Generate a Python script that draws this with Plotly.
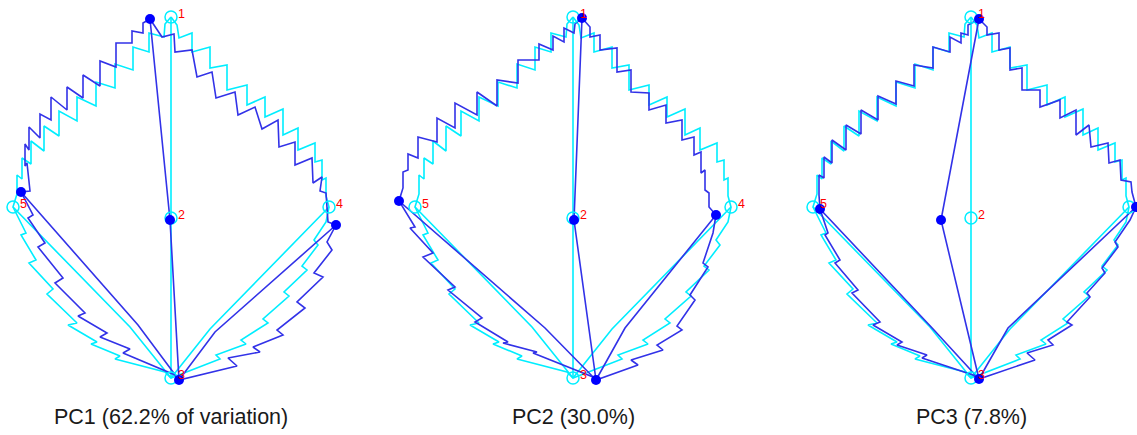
import plotly.graph_objects as go

# ---------------- data (x relative to panel midline, y in image pixels, downwards) -------------
titles = ["PC1 (62.2% of variation)", "PC2 (30.0%)", "PC3 (7.8%)"]
landmark_labels = ["1", "2", "3", "4", "5"]

# mean leaf shape (cyan, open markers) - landmarks 1..5
mean_lm_x = [0, 0, 0, 158, -158]
mean_lm_y = [17, 218, 378, 207, 207]
mean_kinks = [(-41, 327), (39, 329)]
mean_ul = [(-6, 24), (-7, 37), (-22, 33), (-22, 52), (-38, 47), (-38, 70), (-56, 64), (-56, 88),
           (-75, 82), (-75, 106), (-94, 97), (-94, 121), (-112, 111), (-112, 136), (-127, 126),
           (-127, 151), (-140, 141), (-140, 164), (-149, 158), (-149, 179), (-154, 175), (-154, 194)]
mean_ll = [(-145, 233), (-150, 235), (-135, 260), (-142, 263), (-118, 289), (-124, 294), (-94, 323),
           (-103, 325), (-74, 342), (-80, 344), (-51, 356), (-56, 359), (-6, 372)]
mean_lr = [(49, 359), (45, 355), (75, 344), (70, 340), (97, 323), (92, 319), (118, 296), (113, 292),
           (136, 270), (131, 266), (147, 245), (143, 240), (155, 222)]
mean_ur = [(6, 25), (8, 38), (21, 33), (21, 52), (39, 47), (39, 68), (56, 65), (56, 90), (76, 85),
           (76, 105), (94, 97), (94, 117), (112, 109), (112, 135), (127, 128), (127, 150), (144, 143),
           (144, 162), (151, 160), (151, 180), (155, 178), (155, 196)]

# PC1 extreme shape (blue)
pc1_lm_x = [-21, -1, 8, 165, -150]
pc1_lm_y = [19, 220, 380, 225, 192]
pc1_kinks = [(-33, 325), (44, 332)]
pc1_ul = [(-28, 23), (-28, 33), (-39, 31), (-39, 43), (-55, 43), (-55, 67), (-71, 61), (-71, 86),
          (-88, 75), (-88, 98), (-104, 87), (-104, 110), (-120, 97), (-120, 120), (-131, 114),
          (-131, 138), (-142, 127), (-142, 150), (-146, 144), (-146, 166), (-144, 163), (-141, 191)]
pc1_ll = [(-138, 215), (-143, 218), (-126, 243), (-133, 247), (-108, 278), (-116, 283), (-86, 313),
          (-93, 316), (-64, 333), (-71, 337), (-41, 349), (-48, 353), (4, 375)]
pc1_lr = [(66, 366), (57, 358), (89, 352), (82, 347), (112, 335), (106, 330), (134, 308), (126, 302),
          (152, 277), (143, 273), (161, 250), (156, 242)]
pc1_ur = [(-9, 37), (3, 34), (4, 52), (21, 50), (26, 77), (41, 72), (45, 98), (64, 92), (67, 115),
          (84, 107), (91, 129), (107, 120), (108, 147), (124, 142), (124, 165), (141, 158), (142, 183),
          (151, 177), (149, 191), (155, 193), (157, 222)]

# PC2 extreme shape (blue)
pc2_lm_x = [9, 1, 23, 143, -174]
pc2_lm_y = [18, 220, 380, 215, 201]
pc2_kinks = [(-28, 328), (52, 328)]
pc2_ul = [(2, 24), (1, 33), (-9, 28), (-9, 42), (-20, 36), (-20, 50), (-34, 44), (-34, 60), (-55, 60),
          (-55, 83), (-76, 80), (-76, 106), (-96, 92), (-96, 115), (-118, 103), (-118, 128), (-136, 118),
          (-136, 142), (-155, 137), (-155, 158), (-165, 154), (-165, 170), (-170, 172), (-170, 188)]
pc2_ll = [(-158, 227), (-163, 228), (-140, 253), (-150, 257), (-118, 287), (-125, 290), (-91, 318),
          (-98, 322), (-65, 342), (-70, 343), (-36, 352), (-40, 353), (20, 377)]
pc2_lr = [(65, 365), (58, 360), (90, 350), (84, 345), (109, 330), (104, 326), (122, 300), (117, 295),
          (135, 267), (130, 263), (140, 233)]
pc2_ur = [(17, 27), (17, 37), (27, 35), (27, 50), (44, 48), (44, 72), (58, 70), (58, 92), (76, 93),
          (76, 110), (93, 105), (93, 123), (109, 120), (109, 140), (121, 137), (121, 155), (128, 152),
          (128, 173), (132, 170), (132, 190), (136, 193), (136, 207)]

# PC3 extreme shape (blue)
pc3_lm_x = [8, -30, 8, 165, -151]
pc3_lm_y = [19, 220, 379, 207, 209]
pc3_kinks = [(-37, 330), (37, 328)]
pc3_ul = [(-3, 25), (-3, 35), (-10, 33), (-10, 43), (-21, 37), (-21, 52), (-38, 47), (-38, 68),
          (-57, 65), (-57, 86), (-75, 81), (-75, 104), (-93, 96), (-93, 120), (-110, 110), (-110, 134),
          (-125, 125), (-125, 150), (-139, 140), (-139, 163), (-147, 157), (-147, 178), (-152, 175),
          (-152, 195)]
pc3_ll = [(-143, 233), (-146, 235), (-131, 260), (-136, 263), (-113, 290), (-119, 293), (-91, 322),
          (-98, 325), (-69, 342), (-74, 345), (-44, 355), (-49, 358), (2, 375)]
pc3_lr = [(64, 360), (56, 353), (82, 345), (77, 340), (101, 325), (96, 322), (119, 297), (116, 293),
          (134, 273), (131, 268), (147, 247), (144, 242), (159, 220)]
pc3_ur = [(16, 27), (16, 35), (28, 33), (28, 50), (39, 48), (39, 70), (51, 68), (51, 90), (69, 90),
          (69, 107), (89, 100), (89, 118), (105, 110), (105, 135), (118, 125), (120, 147), (137, 143),
          (138, 163), (149, 160), (150, 180), (160, 182), (161, 192)]

# which landmark labels are visible in each panel (panel 3's "4" lies past the right edge)
visible_labels = [["1", "2", "3", "4", "5"], ["1", "2", "3", "4", "5"], ["1", "2", "3", "5"]]

# ---------------- layout of the three panels (pixels) ----------------
W, H = 1137, 435
panel_px = [(0, 372, 171), (372, 772, 573), (772, 1137, 971)]  # left, right, midline

CYAN = "rgb(0,238,255)"
BLUE_LINE = "rgb(50,50,232)"
BLUE_MARK = "rgb(0,0,255)"
FONT = "Liberation Sans, Arial, sans-serif"
LW = 1.6


def shape_dict(lm_x, lm_y, kinks, ul, ll, lr, ur):
    return dict(lm_x=lm_x, lm_y=lm_y, kinks=kinks, ul=ul, ll=ll, lr=lr, ur=ur)


mean_shape = shape_dict(mean_lm_x, mean_lm_y, mean_kinks, mean_ul, mean_ll, mean_lr, mean_ur)
pc_shapes = [
    shape_dict(pc1_lm_x, pc1_lm_y, pc1_kinks, pc1_ul, pc1_ll, pc1_lr, pc1_ur),
    shape_dict(pc2_lm_x, pc2_lm_y, pc2_kinks, pc2_ul, pc2_ll, pc2_lr, pc2_ur),
    shape_dict(pc3_lm_x, pc3_lm_y, pc3_kinks, pc3_ul, pc3_ll, pc3_lr, pc3_ur),
]


def outline_xy(s):
    L = list(zip(s["lm_x"], s["lm_y"]))
    pts = [L[0]] + s["ul"] + [L[4]] + s["ll"] + [L[2]] + s["lr"] + [L[3]] + list(reversed(s["ur"])) + [L[0]]
    return [p[0] for p in pts], [p[1] for p in pts]


def veins_xy(s):
    L = list(zip(s["lm_x"], s["lm_y"]))
    k5, k4 = s["kinks"]
    pts = [L[0], L[1], L[2], None, L[2], k5, L[4], None, L[2], k4, L[3]]
    xs = [p[0] if p else None for p in pts]
    ys = [p[1] if p else None for p in pts]
    return xs, ys


fig = go.Figure()
annotations = []
for i, pc in enumerate(pc_shapes):
    xa = "x" if i == 0 else f"x{i+1}"
    for s, col in [(mean_shape, CYAN), (pc, BLUE_LINE)]:
        ox, oy = outline_xy(s)
        fig.add_trace(go.Scatter(x=ox, y=oy, xaxis=xa, yaxis="y", mode="lines",
                                 line=dict(color=col, width=LW), hoverinfo="skip", showlegend=False))
        vx, vy = veins_xy(s)
        fig.add_trace(go.Scatter(x=vx, y=vy, xaxis=xa, yaxis="y", mode="lines",
                                 line=dict(color=col, width=LW), hoverinfo="skip", showlegend=False))
    fig.add_trace(go.Scatter(x=mean_shape["lm_x"], y=mean_shape["lm_y"], xaxis=xa, yaxis="y",
                             mode="markers", showlegend=False, hoverinfo="skip",
                             marker=dict(symbol="circle-open", size=12, color=CYAN,
                                         line=dict(width=1.5, color=CYAN))))
    fig.add_trace(go.Scatter(x=pc["lm_x"], y=pc["lm_y"], xaxis=xa, yaxis="y",
                             mode="markers", showlegend=False, hoverinfo="skip",
                             marker=dict(symbol="circle", size=10, color=BLUE_MARK)))
    for lx, ly, lab in zip(mean_shape["lm_x"], mean_shape["lm_y"], landmark_labels):
        if lab not in visible_labels[i]:
            continue
        annotations.append(dict(x=lx, y=ly, xref=xa, yref="y", text=lab, showarrow=False,
                                xshift=10, yshift=3, xanchor="center", yanchor="middle",
                                font=dict(family=FONT, size=12.5, color="red")))
    annotations.append(dict(x=0, y=417, xref=xa, yref="y", text=titles[i], showarrow=False,
                            xanchor="center", yanchor="middle",
                            font=dict(family=FONT, size=21.5, color="#1a1a1a")))

layout_axes = {}
for i, (l, r, mid) in enumerate(panel_px):
    name = "xaxis" if i == 0 else f"xaxis{i+1}"
    layout_axes[name] = dict(domain=[l / W, r / W], range=[l - mid, r - mid], anchor="y",
                             visible=False, showgrid=False, zeroline=False, fixedrange=True)

fig.update_layout(
    width=W, height=H, margin=dict(l=0, r=0, t=0, b=0),
    paper_bgcolor="white", plot_bgcolor="white",
    yaxis=dict(domain=[0, 1], range=[H, 0], visible=False, showgrid=False, zeroline=False, fixedrange=True),
    annotations=annotations, showlegend=False,
    **layout_axes,
)

fig.write_html("out.html", config={"displayModeBar": False},
               post_script="document.body.style.margin='0';document.body.style.overflow='hidden';")
